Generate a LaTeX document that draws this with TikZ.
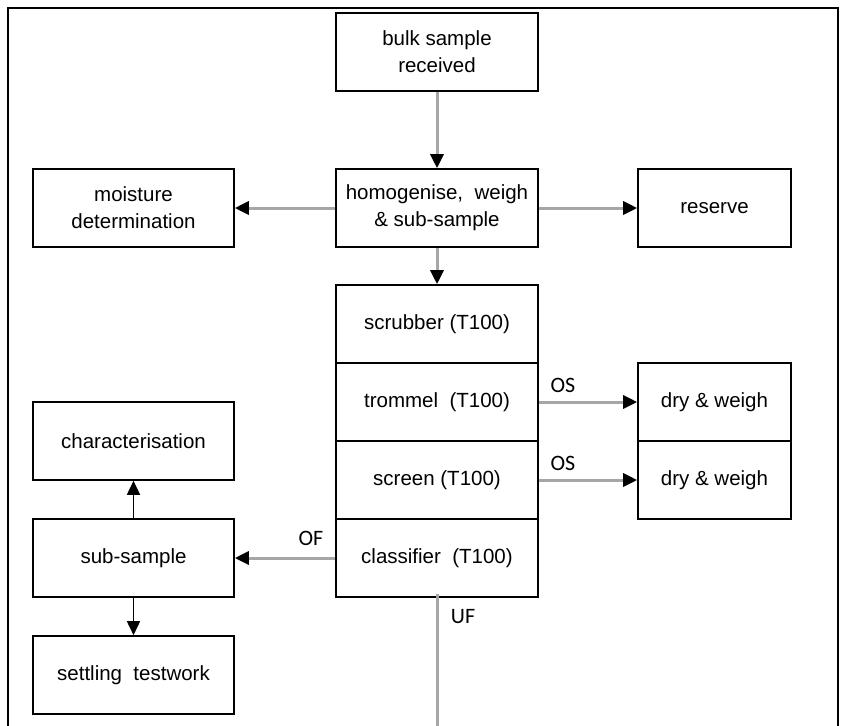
\documentclass[tikz,border=0pt]{standalone}
\usepackage{fontspec}
\setmainfont{Liberation Sans}
\newfontfamily\labfont{Carlito}
\usetikzlibrary{arrows.meta}
\definecolor{linegray}{RGB}{166,166,166}
\tikzset{
  box/.style={draw=black, line width=1.6pt, rectangle, align=center,
    minimum height=78pt, inner sep=2pt,
    font=\fontsize{20.5pt}{27pt}\selectfont},
  wbox/.style={box, minimum width=202pt},
  sbox/.style={box, minimum width=153pt},
  lbox/.style={box, minimum width=201pt},
  tip/.style={-{Triangle[length=14pt,width=13pt,color=black]}},
  garrow/.style={tip, draw=linegray, line width=3pt},
  barrow/.style={tip, draw=black, line width=1.6pt},
  lab/.style={font=\labfont\fontsize{22pt}{24pt}\selectfont, inner sep=0pt}
}
\begin{document}
\begin{tikzpicture}[x=1pt,y=-1pt]
\useasboundingbox (0,0) rectangle (844,726);
\fill[white] (0,0) rectangle (844,726);
\draw[line width=2.4pt] (8,726) -- (8,8) -- (838,8) -- (838,726);

\node[wbox] (bulk) at (437,52) {bulk sample\\received};
\node[wbox] (homo) at (437,208) {homogenise,\ \ weigh\\\& sub-sample};
\node[lbox] (moist) at (133.5,208) {moisture\\determination};
\node[sbox] (res) at (714.5,208) {reserve};

\node[wbox] (scrub) at (437,324) {scrubber (T100)};
\node[wbox] (trom) at (437,402) {trommel\ \ (T100)};
\node[wbox] (scr) at (437,480) {screen (T100)};
\node[wbox] (cls) at (437,558) {classifier\ \ (T100)};

\node[sbox] (dry1) at (714.5,402) {dry \& weigh};
\node[sbox] (dry2) at (714.5,480) {dry \& weigh};

\node[lbox] (char) at (133.5,441) {characterisation};
\node[lbox] (sub) at (133.5,558) {sub-sample};
\node[lbox] (sett) at (133.5,675) {settling\ \ testwork};

\coordinate (ufend) at (437,726);

\draw[garrow] (bulk) -- (homo);
\draw[garrow] (homo) -- (moist);
\draw[garrow] (homo) -- (res);
\draw[garrow] (homo) -- (scrub);
\draw[garrow] (trom) -- (dry1);
\draw[garrow] (scr) -- (dry2);
\draw[garrow] (cls) -- (sub);
\draw[draw=linegray, line width=3pt] (cls.south) ++(0,-4) -- (ufend);
\draw[barrow] (sub) -- (char);
\draw[barrow] (sub) -- (sett);

\node[lab] (os1) at (563,385) {OS};
\node[lab] (os2) at (563,463) {OS};
\node[lab] (of) at (311,538) {OF};
\node[lab] (uf) at (463,617) {UF};
\end{tikzpicture}
\end{document}
